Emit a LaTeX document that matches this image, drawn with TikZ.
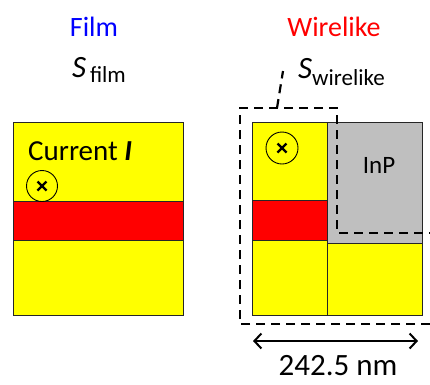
\documentclass[tikz,border=0pt]{standalone}
\usepackage{fontspec}
\setmainfont{Carlito}
\usetikzlibrary{arrows.meta}
\definecolor{yel}{RGB}{255,255,0}
\definecolor{redf}{RGB}{255,0,0}
\definecolor{inpgray}{RGB}{191,191,191}
\definecolor{blu}{RGB}{0,0,255}
\begin{document}
\begin{tikzpicture}[x=1pt,y=-1pt,
  cell/.style={draw=black!85, line width=0.9pt},
  dashline/.style={line width=2.2pt, dash pattern=on 9pt off 6pt},
  lbl/.style={inner sep=0pt, font=\fontsize{28}{30}\selectfont},
  curr/.style={circle, draw=black, line width=0.9pt, minimum size=31pt, inner sep=0pt},
  crossline/.style={line width=2.4pt},
  dimarrow/.style={line width=2pt, {Straight Barb[length=7pt,width=15pt]}-{Straight Barb[length=7pt,width=15pt]}}
]
\useasboundingbox (0,0) rectangle (430,384);
% titles
\node[lbl, anchor=base, text=blu] (tfilm) at (94,36) {Film};
\node[lbl, anchor=base, text=redf] (twire) at (334,36) {Wirelike};
\node[inner sep=0pt, anchor=base west] (sfilm) at (72,77)
  {{\fontsize{31}{31}\selectfont\textit{S}}\raisebox{-5pt}{\fontsize{23}{23}\selectfont\,film}};
\node[inner sep=0pt, anchor=base west] (swire) at (298,78)
  {{\fontsize{31}{31}\selectfont\textit{S}}\raisebox{-7pt}{\fontsize{23}{23}\selectfont wirelike}};
% film
\filldraw[cell, fill=yel] (13,122) rectangle (183,315);
\filldraw[cell, fill=redf] (13,201) rectangle (183,240);
\node[inner sep=0pt, anchor=base west, font=\fontsize{29}{31}\selectfont] (curtxt) at (28,160) {Current \textbf{\textit{I}}};
\node[curr] (c1) at (42,186) {};
\draw[crossline] ([shift={(-4.5,-4.5)}]c1.center) -- ([shift={(4.5,4.5)}]c1.center);
\draw[crossline] ([shift={(-4.5,4.5)}]c1.center) -- ([shift={(4.5,-4.5)}]c1.center);
% wirelike
\filldraw[cell, fill=yel] (252,122) rectangle (327,200);
\filldraw[cell, fill=redf] (252,200) rectangle (327,240);
\filldraw[cell, fill=yel] (252,240) rectangle (327,315);
\filldraw[cell, fill=inpgray] (327,122) rectangle (422,243);
\filldraw[cell, fill=yel] (327,243) rectangle (422,315);
\node[inner sep=0pt, anchor=base, font=\fontsize{25}{27}\selectfont] (inp) at (379,173) {InP};
\node[curr, minimum size=32pt] (c2) at (282,148) {};
\draw[crossline] ([shift={(-4.5,-4.5)}]c2.center) -- ([shift={(4.5,4.5)}]c2.center);
\draw[crossline] ([shift={(-4.5,4.5)}]c2.center) -- ([shift={(4.5,-4.5)}]c2.center);
% dashed region
\draw[dashline] (445,324) -- (240,324) -- (240,108) -- (337,108) -- (337,233) -- (445,233);
\coordinate (lead1) at (277,108);
\coordinate (lead2) at (283,71);
\draw[dashline] (lead1) -- (lead2);
% dimension
\coordinate (al) at (253,341);
\coordinate (ar) at (418,341);
\draw[dimarrow] (al) -- (ar);
\node[inner sep=0pt, anchor=base, font=\fontsize{31}{33}\selectfont] (dim) at (338,375) {242.5 nm};
\end{tikzpicture}
\end{document}
